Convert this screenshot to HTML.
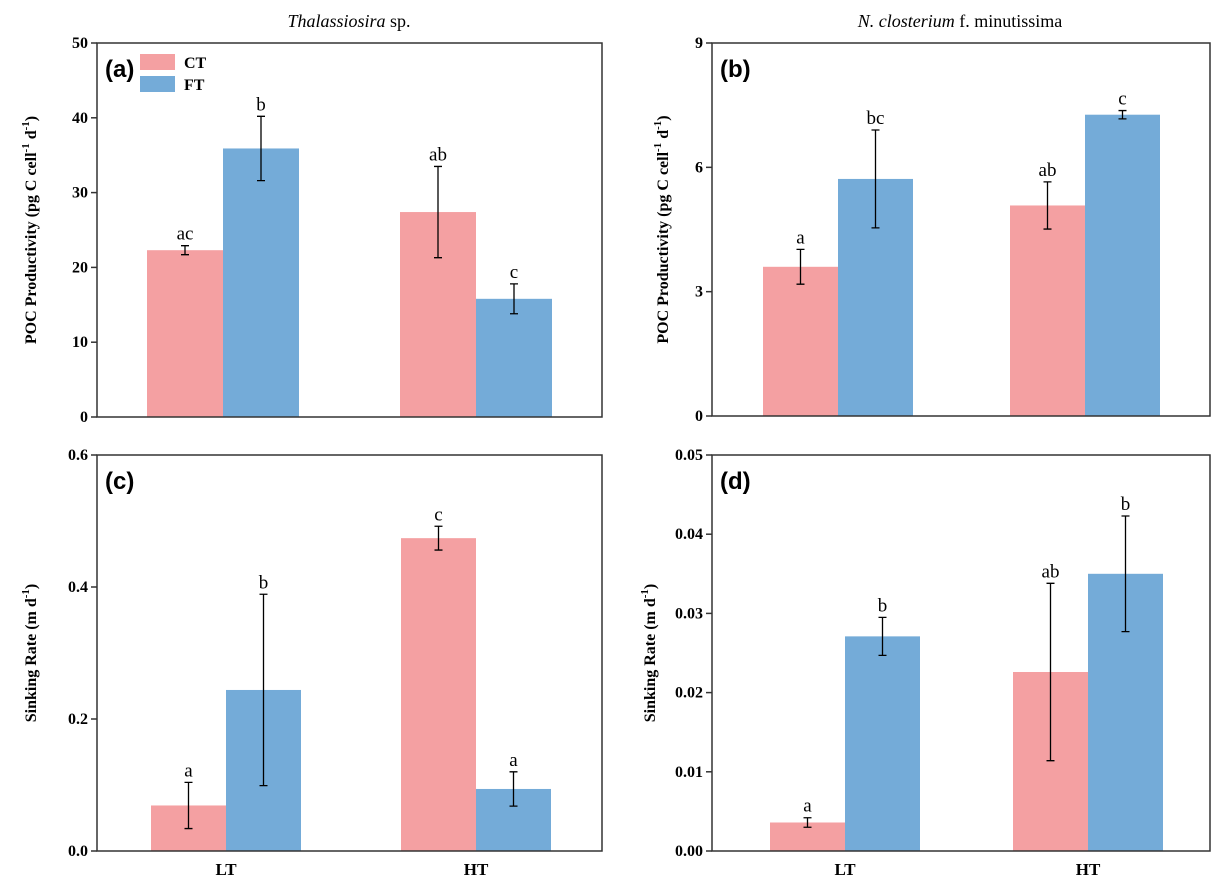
<!DOCTYPE html>
<html><head><meta charset="utf-8"><style>
body{margin:0;background:#fff}
svg{display:block}
text{font-family:"Liberation Serif",serif}
</style></head><body>
<svg id="chart" width="1224" height="885" viewBox="0 0 1224 885" xmlns="http://www.w3.org/2000/svg">
<text x="349" y="27" font-size="18" text-anchor="middle"><tspan font-style="italic">Thalassiosira</tspan> sp.</text>
<text x="960" y="27" font-size="18" text-anchor="middle"><tspan font-style="italic">N. closterium</tspan> f. minutissima</text>
</svg>
<script>
const categories=["LT","HT"];
const ctA=[22.3,27.4], ctAErr=[0.6,6.1], ftA=[35.9,15.8], ftAErr=[4.3,2.0], lblA=[["ac","b"],["ab","c"]];
const ctB=[3.6,5.08], ctBErr=[0.42,0.57], ftB=[5.72,7.27], ftBErr=[1.18,0.1], lblB=[["a","bc"],["ab","c"]];
const ctC=[0.069,0.474], ctCErr=[0.035,0.018], ftC=[0.244,0.094], ftCErr=[0.145,0.026], lblC=[["a","b"],["c","a"]];
const ctD=[0.0036,0.0226], ctDErr=[0.0006,0.0112], ftD=[0.0271,0.035], ftDErr=[0.0024,0.0073], lblD=[["a","b"],["ab","b"]];
const ticksA=[0,10,20,30,40,50], ticksB=[0,3,6,9], ticksC=[0,0.2,0.4,0.6], ticksD=[0,0.01,0.02,0.03,0.04,0.05];
const tickLabA=["0","10","20","30","40","50"], tickLabB=["0","3","6","9"], tickLabC=["0.0","0.2","0.4","0.6"], tickLabD=["0.00","0.01","0.02","0.03","0.04","0.05"];
const svg=document.getElementById('chart');
const NS="http://www.w3.org/2000/svg";
function mk(tag,attrs,parent){const e=document.createElementNS(NS,tag);for(const k in attrs)e.setAttribute(k,attrs[k]);(parent||svg).appendChild(e);return e;}
function panel(o){
  const g=mk('g',{});
  
  
  const y=v=>o.y1-(v-o.ymin)/(o.ymax-o.ymin)*(o.y1-o.y0);
  const groupCenters=[o.c1,o.c2];
  const bw=o.bw;
  const series=[{v:o.ct,e:o.cte,c:"#f4a0a2",n:"ct"},{v:o.ft,e:o.fte,c:"#74abd8",n:"ft"}];
  categories.forEach((cat,i)=>{
    series.forEach((s,j)=>{
      const x=groupCenters[i]+(j===0?-bw:0);
      const r=mk('rect',{x:x,y:y(s.v[i]),width:bw,height:y(0)-y(s.v[i]),fill:s.c},g);
      
      
      const cx=x+bw/2, yt=y(s.v[i]+s.e[i]), yb=y(s.v[i]-s.e[i]);
      const eb=mk('path',{d:`M${cx},${yt}V${yb}M${cx-4},${yt}H${cx+4}M${cx-4},${yb}H${cx+4}`,stroke:"#000","stroke-width":1.3,fill:"none"},g);
      
      
      const t=mk('text',{x:cx,y:yt-6,"font-size":19,"text-anchor":"middle"},g);
      t.textContent=o.lbl[i][j];
      
      
    });
    if(o.xlab){
      const t=mk('text',{x:groupCenters[i],y:o.y1+24,"font-size":17,"font-weight":"bold","text-anchor":"middle"},g);
      t.textContent=cat;
      
      
    }
  });
  const fr=mk('rect',{x:o.x0,y:o.y0,width:o.x1-o.x0,height:o.y1-o.y0,fill:"none",stroke:"#333","stroke-width":1.5},g);
  
  
  o.ticks.forEach((tv,k)=>{
    mk('line',{x1:o.x0-6,x2:o.x0,y1:y(tv),y2:y(tv),stroke:"#333","stroke-width":1.5},g);
    const t=mk('text',{x:o.x0-9,y:y(tv)+5,"font-size":16,"font-weight":"bold","text-anchor":"end"},g);
    t.textContent=o.tl[k];
    
    
  });
  const pl=mk('text',{x:o.x0+8,y:o.y0+34,"font-size":24,"font-weight":"bold",style:"font-family:'Liberation Sans',sans-serif"},g);
  pl.textContent="("+o.id+")";
  
  
  const yc=(o.y0+o.y1)/2;
  const yt=mk('text',{x:o.ylx,y:yc,"font-size":16,"font-weight":"bold","text-anchor":"middle",transform:`rotate(-90 ${o.ylx} ${yc})`},g);
  yt.innerHTML=o.ytitle;
  
  
}
const poc='POC Productivity (pg C cell<tspan dy="-7" font-size="11">-1</tspan><tspan dy="7"> d</tspan><tspan dy="-7" font-size="11">-1</tspan><tspan dy="7">)</tspan>';
const sink='Sinking Rate (m d<tspan dy="-7" font-size="11">-1</tspan><tspan dy="7">)</tspan>';
panel({id:"a",x0:97,x1:602,y0:43,y1:417,ymin:0,ymax:50,c1:223,c2:476,bw:76,ct:ctA,cte:ctAErr,ft:ftA,fte:ftAErr,lbl:lblA,ticks:ticksA,tl:tickLabA,ylx:36,ytitle:poc,xlab:false});
panel({id:"b",x0:712,x1:1210,y0:43,y1:416,ymin:0,ymax:9,c1:838,c2:1085,bw:75,ct:ctB,cte:ctBErr,ft:ftB,fte:ftBErr,lbl:lblB,ticks:ticksB,tl:tickLabB,ylx:668,ytitle:poc,xlab:false});
panel({id:"c",x0:97,x1:602,y0:455,y1:851,ymin:0,ymax:0.6,c1:226,c2:476,bw:75,ct:ctC,cte:ctCErr,ft:ftC,fte:ftCErr,lbl:lblC,ticks:ticksC,tl:tickLabC,ylx:36,ytitle:sink,xlab:true});
panel({id:"d",x0:712,x1:1210,y0:455,y1:851,ymin:0,ymax:0.05,c1:845,c2:1088,bw:75,ct:ctD,cte:ctDErr,ft:ftD,fte:ftDErr,lbl:lblD,ticks:ticksD,tl:tickLabD,ylx:655,ytitle:sink,xlab:true});
// legend
const lg=mk('g',{});


[["CT","#f4a0a2",54],["FT","#74abd8",62]].forEach(([n,c,yy],i)=>{
  const r=mk('rect',{x:140,y:i===0?54:76,width:35,height:16,fill:c},lg);
  
  
  const t=mk('text',{x:184,y:i===0?68:90,"font-size":16,"font-weight":"bold"},lg);
  t.textContent=n;
  
  
});
</script>
</body></html>
